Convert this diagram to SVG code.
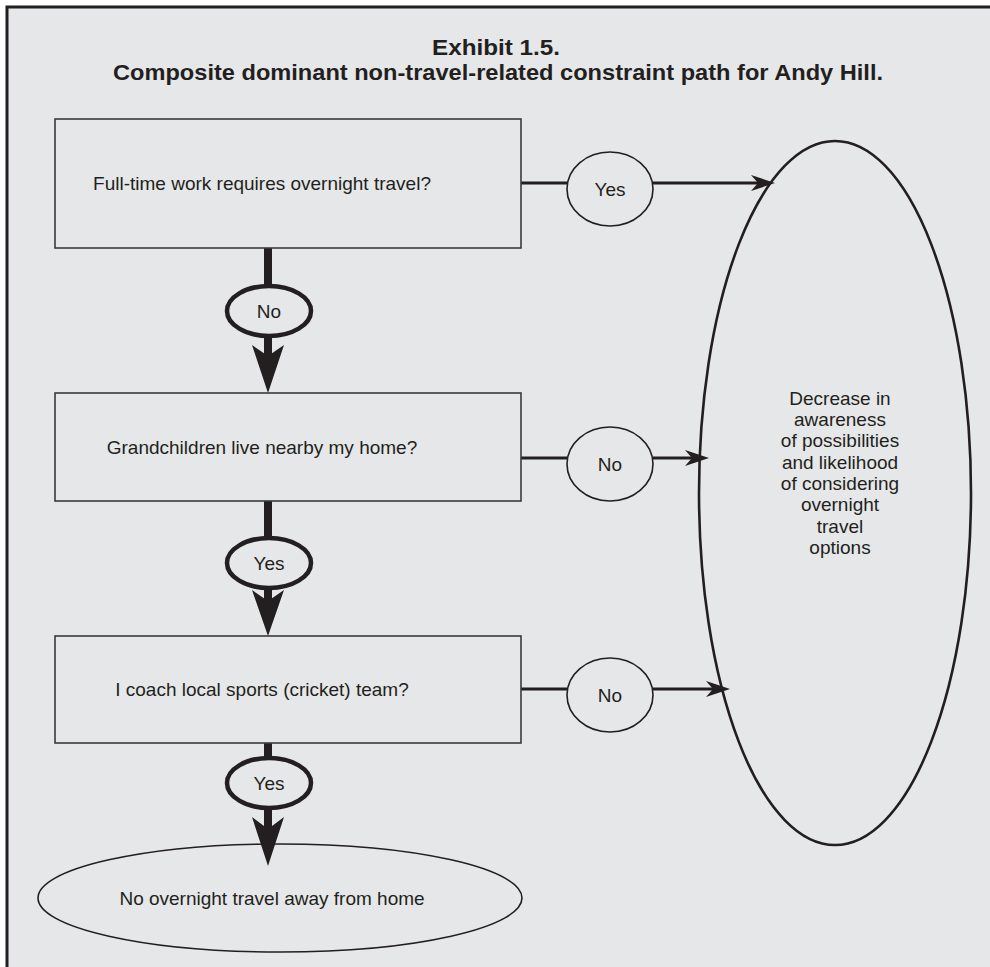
<svg xmlns="http://www.w3.org/2000/svg" width="990" height="967" viewBox="0 0 990 967">
  <style>
    .panel { fill: #e6e7e8; }
    .frame { stroke: #231f20; stroke-width: 3; fill: none; }
    .box { fill: #e6e7e8; stroke: #3c3a3b; stroke-width: 1.6; }
    .oval { fill: #e6e7e8; stroke: #231f20; stroke-width: 1.6; }
    .big { fill: #e6e7e8; stroke: #231f20; stroke-width: 2.6; }
    .tag { fill: #e6e7e8; stroke: #231f20; stroke-width: 4.5; }
    .wire { stroke: #231f20; stroke-width: 3; fill: none; }
    .shaft { stroke: #231f20; stroke-width: 8; fill: none; }
    .head { fill: #231f20; }
    text { font-family: "Liberation Sans", Arial, sans-serif; fill: #231f20; text-anchor: middle; }
    .body { font-size: 19px; }
    .title { font-size: 22px; font-weight: bold; }
  </style>

  <!-- panel -->
  <rect x="0" y="0" width="990" height="967" fill="#ffffff"/>
  <rect class="panel" x="7" y="7" width="983" height="960"/>
  <path class="frame" d="M7,967 V7 H990"/>

  <g id="title">
    <text class="title" x="496" y="55" textLength="128" lengthAdjust="spacingAndGlyphs">Exhibit 1.5.</text>
    <text class="title" x="498" y="80" textLength="770" lengthAdjust="spacingAndGlyphs">Composite dominant non-travel-related constraint path for Andy Hill.</text>
  </g>

  <!-- connectors -->
  <g id="connectors">
    <!-- vertical flow (thick) -->
    <line class="shaft" x1="268" y1="248" x2="268" y2="360"/>
    <path class="head" d="M268,393 L252,345 L268,356 L284,345 Z"/>
    <line class="shaft" x1="268" y1="501" x2="268" y2="602"/>
    <path class="head" d="M268,636 L252,590 L268,601 L284,590 Z"/>
    <line class="shaft" x1="268" y1="743" x2="268" y2="830"/>

    <!-- horizontal exits -->
    <line class="wire" x1="521" y1="183" x2="567" y2="183"/>
    <line class="wire" x1="653" y1="183" x2="760" y2="183"/>

    <line class="wire" x1="521" y1="458" x2="567" y2="458"/>
    <line class="wire" x1="653" y1="458" x2="694" y2="458"/>

    <line class="wire" x1="521" y1="689" x2="567" y2="689"/>
    <line class="wire" x1="653" y1="689" x2="715" y2="689"/>

    <!-- branch labels -->
    <g id="lbl-no-1">
      <ellipse class="tag" cx="269" cy="311" rx="42" ry="25"/>
      <text class="body" x="269" y="318">No</text>
    </g>
    <g id="lbl-yes-2">
      <ellipse class="tag" cx="269" cy="563" rx="42" ry="25"/>
      <text class="body" x="269" y="570">Yes</text>
    </g>
    <g id="lbl-yes-3">
      <ellipse class="tag" cx="269" cy="783" rx="42" ry="25"/>
      <text class="body" x="269" y="790">Yes</text>
    </g>
    <g id="lbl-yes-1">
      <ellipse class="oval" cx="610" cy="189" rx="43" ry="37"/>
      <text class="body" x="610" y="196">Yes</text>
    </g>
    <g id="lbl-no-2">
      <ellipse class="oval" cx="610" cy="464" rx="43" ry="37"/>
      <text class="body" x="610" y="471">No</text>
    </g>
    <g id="lbl-no-3">
      <ellipse class="oval" cx="610" cy="695" rx="43" ry="37"/>
      <text class="body" x="610" y="702">No</text>
    </g>
  </g>

  <!-- decision boxes -->
  <g id="q-work">
    <rect class="box" x="55" y="119" width="466" height="129"/>
    <text class="body" x="262" y="190">Full-time work requires overnight travel?</text>
  </g>
  <g id="q-grandchildren">
    <rect class="box" x="55" y="393" width="466" height="108"/>
    <text class="body" x="262" y="454">Grandchildren live nearby my home?</text>
  </g>
  <g id="q-coach">
    <rect class="box" x="55" y="636" width="466" height="107"/>
    <text class="body" x="262" y="696">I coach local sports (cricket) team?</text>
  </g>

  <!-- outcomes -->
  <g id="outcome-decrease">
    <ellipse class="big" cx="835" cy="493" rx="136" ry="352"/>
    <text class="body" x="840" y="405">Decrease in</text>
    <text class="body" x="840" y="426">awareness</text>
    <text class="body" x="840" y="447">of possibilities</text>
    <text class="body" x="840" y="469">and likelihood</text>
    <text class="body" x="840" y="490">of considering</text>
    <text class="body" x="840" y="511">overnight</text>
    <text class="body" x="840" y="533">travel</text>
    <text class="body" x="840" y="554">options</text>
  </g>
  <g id="outcome-home">
    <ellipse class="oval" cx="280" cy="898" rx="242" ry="54"/>
    <text class="body" x="272" y="905">No overnight travel away from home</text>
  </g>

  <!-- arrowheads, drawn over the shapes they point into -->
  <g id="connector-tips">
    <path class="head" d="M268,866 L252,817 L268,829 L284,817 Z"/>
    <path class="head" d="M775,183 L751,175 L758,183 L751,191 Z"/>
    <path class="head" d="M709,458 L685,450 L692,458 L685,466 Z"/>
    <path class="head" d="M730,689 L706,681 L713,689 L706,697 Z"/>
  </g>
</svg>
